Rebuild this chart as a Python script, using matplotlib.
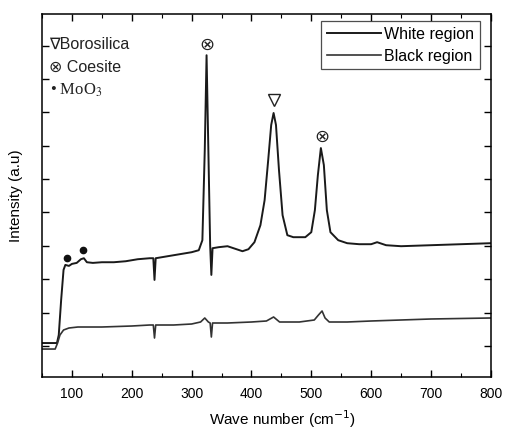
import matplotlib
matplotlib.use("Agg")
import matplotlib.pyplot as plt
from matplotlib.ticker import MultipleLocator

plt.rcParams["font.family"] = ["Liberation Sans", "DejaVu Sans"]

# White region spectrum (wave number, intensity a.u.)
white_x = [50, 75, 78, 82, 86, 89, 95, 100, 108, 115, 120, 125, 135, 150, 170, 190,
           210, 230, 236, 238, 240, 260, 280, 300, 312, 318, 322, 325, 328, 331, 333,
           335, 345, 360, 375, 385, 395, 405, 415, 422, 428, 433, 437, 441, 446, 452,
           460, 470, 490, 500, 506, 511, 516, 521, 526, 532, 545, 560, 580, 600, 610,
           625, 650, 700, 750, 800]
white_y = [0.09, 0.09, 0.33, 1.38, 2.28, 2.43, 2.40, 2.46, 2.49, 2.60, 2.63, 2.51, 2.49,
           2.51, 2.51, 2.54, 2.60, 2.63, 2.63, 1.98, 2.63, 2.69, 2.75, 2.81, 2.87, 3.17,
           5.87, 8.71, 5.87, 3.02, 2.13, 2.93, 2.96, 2.99, 2.90, 2.84, 2.90, 3.11, 3.62,
           4.37, 5.57, 6.62, 6.98, 6.62, 5.27, 3.92, 3.32, 3.26, 3.26, 3.41, 4.07, 5.12,
           5.93, 5.42, 4.07, 3.41, 3.17, 3.08, 3.05, 3.05, 3.11, 3.02, 2.99, 3.02, 3.05,
           3.08]

# Black region spectrum
black_x = [50, 72, 76, 80, 86, 95, 110, 150, 200, 230, 236, 238, 240, 270, 300, 315,
           322, 328, 331, 333, 335, 360, 400, 425, 437, 447, 480, 505, 512, 518, 523,
           530, 560, 600, 650, 700, 800]
black_y = [-0.09, -0.09, 0.09, 0.33, 0.48, 0.54, 0.57, 0.57, 0.60, 0.63, 0.63, 0.24,
           0.63, 0.63, 0.66, 0.72, 0.84, 0.72, 0.69, 0.27, 0.69, 0.69, 0.72, 0.75, 0.87,
           0.72, 0.72, 0.78, 0.93, 1.05, 0.84, 0.72, 0.72, 0.75, 0.78, 0.81, 0.84]

# phase markers
coesite_x = [325, 518]
coesite_y = [9.03, 6.27]
boro_x = [437]
boro_y = [7.36]
moo3_x = [92, 118]
moo3_y = [2.63, 2.87]

# key text in the top-left corner
key_labels = ["\u2207Borosilica", "\u2297 Coesite", "\u2022 MoO$_3$"]
key_y = [9.04, 8.35, 7.66]

fig = plt.figure(figsize=(5.06, 4.29), dpi=100)
ax = fig.add_axes([0.083, 0.121, 0.887, 0.846])

ax.plot(white_x, white_y, color="#1a1a1a", lw=1.4, label="White region")
ax.plot(black_x, black_y, color="#333333", lw=1.2, label="Black region")

for x, y in zip(coesite_x, coesite_y):
    ax.text(x, y, "\u2297", fontsize=13, ha="center", va="center",
            family="DejaVu Sans", color="#222222")
ax.plot(boro_x, boro_y, ls="none", marker="v", ms=8, mfc="white", mec="#222222", mew=1.0)
ax.plot(moo3_x, moo3_y, ls="none", marker="o", ms=4.5, color="#111111")

ax.text(62, key_y[0], key_labels[0], fontsize=11.5, va="center", ha="left", color="#222222")
ax.text(62, key_y[1], key_labels[1], fontsize=11.5, va="center", ha="left", color="#222222")
ax.text(64, key_y[2], key_labels[2], fontsize=12, va="center", ha="left", color="#222222",
        family=["Liberation Serif", "DejaVu Serif"], math_fontfamily="stix")

ax.set_xlim(50, 800)
ax.set_ylim(-0.93, 9.94)
ax.xaxis.set_major_locator(MultipleLocator(100))
ax.xaxis.set_minor_locator(MultipleLocator(50))
ax.yaxis.set_major_locator(MultipleLocator(1))
ax.set_yticklabels([])
ax.tick_params(axis="both", which="both", direction="in", top=True, right=True)
ax.tick_params(which="major", length=5, width=1)
ax.tick_params(which="minor", length=3, width=0.8)
ax.tick_params(axis="x", labelsize=10, pad=7)
for s in ax.spines.values():
    s.set_linewidth(1.1)

ax.set_xlabel("Wave number (cm$^{-1}$)", fontsize=11, labelpad=3)
ax.xaxis.set_label_coords(0.535, -0.085)
ax.set_ylabel("Intensity (a.u)", fontsize=11, labelpad=10)

leg = ax.legend(loc="upper right", bbox_to_anchor=(480 / 506, 1 - 21 / 429),
                bbox_transform=fig.transFigure, fontsize=11.5, frameon=True,
                fancybox=False, edgecolor="#222222", handlelength=3.4,
                borderaxespad=0, handletextpad=0.2, borderpad=0.35, labelspacing=0.45)
leg.get_frame().set_linewidth(0.9)

fig.savefig("out.png", dpi=100)
